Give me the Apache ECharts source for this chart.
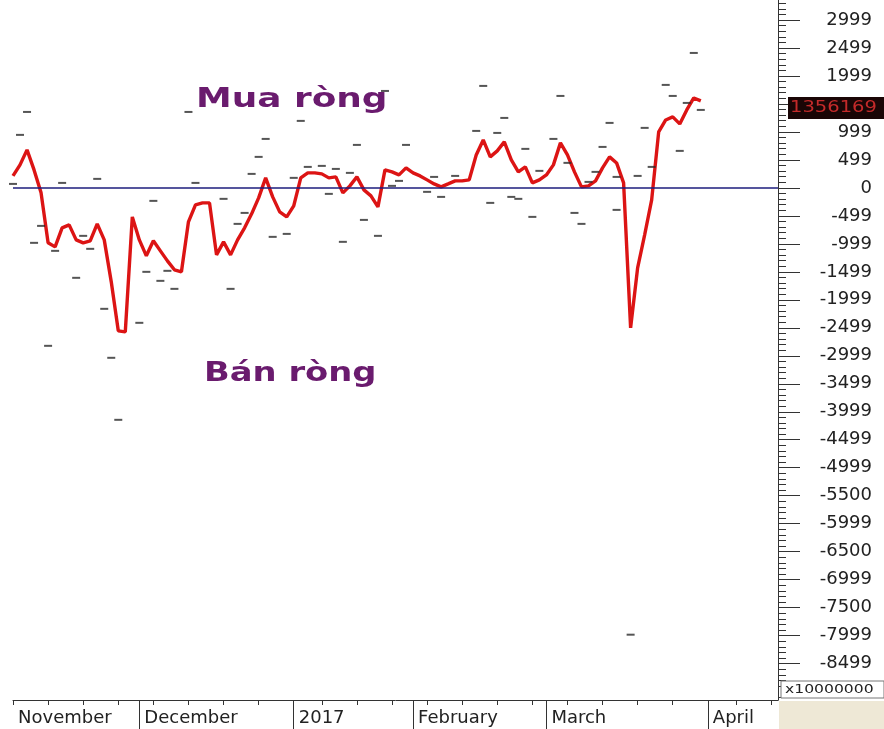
<!DOCTYPE html>
<html><head><meta charset="utf-8">
<script src="https://cdn.jsdelivr.net/npm/echarts@6/dist/echarts.min.js"></script>
<style>html,body{margin:0;padding:0;background:#fff}#c{width:884px;height:729px}</style>
</head><body><div id="c"></div>
<script>
// ---- data ----
const startDate = '2016-11-07';
const endDate = '2017-04-18';
const holidays = ['2017-01-02','2017-01-26','2017-01-27','2017-01-30','2017-01-31','2017-02-01','2017-04-06'];

// net buy/sell line (one value per trading day, Nov 7 2016 .. Mar 31 2017)
const netValues = [214,411,679,321,-89,-982,-1054,-714,-661,-929,
 -982,-946,-643,-929,-1679,-2554,-2572,-518,-929,-1214,
 -946,-1125,-1304,-1464,-1500,-607,-304,-268,-268,-1197,
 -964,-1197,-929,-714,-464,-179,179,-161,-429,-518,
 -321,179,268,268,250,179,196,-89,36,196,
 -36,-143,-339,321,286,232,357,268,214,143,
 71,18,71,125,125,143,589,857,554,661,
 822,500,286,375,89,143,232,411,804,589,
 286,18,36,125,357,554,446,89,-2500,-1429,
 -839,-214,1000,1214,1268,1143,1393,1607,1554];

// small dash markers (trading-day index, value)
const dashIdx = [0,1,2,3,4,5,6,7,9,10,11,12,13,14,15,18,19,20,21,22,23,25,26,30,31,32,33,34,35,36,37,39,40,41,42,44,45,46,47,48,49,50,52,53,54,55,56,59,60,61,63,66,67,68,69,70,71,72,73,74,75,77,78,79,80,81,82,83,84,85,86,86,88,89,90,91,93,94,95,96,97,98];
const dashVal = [71,947,1357,-982,-679,-2822,-1125,89,-1607,-857,-1089,161,-2161,-3036,-4144,-2411,-1500,-232,-1661,-1482,-1804,1357,89,-196,-1804,-643,-447,250,554,875,-875,-822,179,1197,375,393,-107,339,-964,268,768,-572,-857,1732,36,125,768,-71,196,-161,214,1018,1822,-268,982,1250,-161,-196,697,-518,304,875,1643,447,-447,-643,107,286,732,1161,196,-393,-7983,214,1072,375,1840,1643,661,1518,2411,1393];

// y tick labels (the 1499 label is hidden behind the last-value box in the original)
const yTickValues = [3000,2500,2000,1500,1000,500,0,-500,-1000,-1500,-2000,-2500,-3000,-3500,-4000,-4500,-5000,-5500,-6000,-6500,-7000,-7500,-8000,-8500];
const yTickLabels = ['2999','2499','1999','','999','499','0','-499','-999','-1499','-1999','-2499','-2999','-3499','-3999','-4499','-4999','-5500','-5999','-6500','-6999','-7500','-7999','-8499'];
const monthNames = ['2017','February','March','April','May','June','July','August','September','October','November','December'];
const lastValueText = '1356169';
const unitText = 'x10000000';
const buyText = 'Mua ròng';
const sellText = 'Bán ròng';
const yMin = -9150, yMax = 3357;

// ---- build trading-day categories ----
const categories = [];
(function(){
  let d = new Date(startDate + 'T00:00:00Z');
  const end = new Date(endDate + 'T00:00:00Z');
  while (d <= end) {
    const s = d.toISOString().slice(0,10);
    const wd = d.getUTCDay();
    if (wd !== 0 && wd !== 6 && holidays.indexOf(s) < 0) categories.push(s);
    d = new Date(d.getTime() + 86400000);
  }
})();
function weekNo(s){ return Math.floor((Date.parse(s + 'T00:00:00Z')/86400000 + 3) / 7); }
function monthOf(s){ return +s.slice(5,7); }
function isWeekStart(i){ return i === 0 || weekNo(categories[i]) !== weekNo(categories[i-1]); }
function isMonthStart(i){ return i > 0 && monthOf(categories[i]) !== monthOf(categories[i-1]); }
const minorVals = [];
for (let v = -9100; v <= 3300; v += 100) if (v % 500 !== 0) minorVals.push(v);

const FONT = 'DejaVu Sans';
const chart = echarts.init(document.getElementById('c'));
chart.setOption({
  animation: false,
  backgroundColor: '#ffffff',
  grid: {left: 13, right: 106, top: 0, bottom: 29, outerBoundsMode: 'none'},
  xAxis: [
    {type: 'category', data: categories, boundaryGap: false, position: 'bottom',
     axisLine: {show: true, onZero: false, lineStyle: {color: '#333', width: 1}},
     axisTick: {show: true, interval: (i) => isWeekStart(i), length: 5, lineStyle: {color: '#333'}},
     axisLabel: {show: false}, splitLine: {show: false}},
    {type: 'category', data: categories, boundaryGap: false, position: 'bottom',
     axisLine: {show: false, onZero: false},
     axisTick: {show: true, interval: (i) => isMonthStart(i), length: 29, lineStyle: {color: '#333'}},
     axisLabel: {show: true, interval: (i) => i === 0 || isMonthStart(i),
       formatter: (v) => { const m = monthOf(v); return m === 1 ? monthNames[0] : monthNames[m - 1]; },
       align: 'left', padding: [0, 0, 0, 5], margin: 9, fontFamily: FONT, fontSize: 18, color: '#222'},
     splitLine: {show: false}}
  ],
  yAxis: [
    {type: 'value', position: 'right', min: yMin, max: yMax,
     axisLine: {show: true, lineStyle: {color: '#333', width: 1}},
     axisTick: {show: true, customValues: yTickValues, length: 22, lineStyle: {color: '#333'}},
     axisLabel: {show: true, customValues: yTickValues,
       formatter: (v) => { const k = yTickValues.indexOf(v); return k >= 0 ? yTickLabels[k] : ''; },
       align: 'right', margin: 94, fontFamily: FONT, fontSize: 18, color: '#222'},
     splitLine: {show: false}},
    {type: 'value', position: 'right', min: yMin, max: yMax,
     axisLine: {show: false},
     axisTick: {show: true, customValues: minorVals, length: 8, lineStyle: {color: '#333'}},
     axisLabel: {show: false}, splitLine: {show: false}}
  ],
  series: [
    {type: 'line', name: 'net', xAxisIndex: 0, yAxisIndex: 0, data: netValues,
     symbol: 'none', showSymbol: false, z: 3,
     lineStyle: {color: '#dc1414', width: 3.4},
     markLine: {silent: true, symbol: 'none', label: {show: false},
       lineStyle: {color: '#1c1c7c', width: 1.5, type: 'solid'}, data: [{yAxis: 0}]}},
    {type: 'scatter', name: 'dash', xAxisIndex: 0, yAxisIndex: 0,
     data: dashIdx.map((i, k) => [i, dashVal[k]]),
     symbol: 'rect', symbolSize: [8, 2], itemStyle: {color: '#2a2a2a'}, z: 4, clip: false}
  ],
  graphic: [
    {type: 'text', x: 196, y: 87, scaleX: 1.38, z: 50,
     style: {text: buyText, fontFamily: FONT, fontWeight: 'bold', fontSize: 26, fill: '#6a1b6e', align: 'left', verticalAlign: 'top'}},
    {type: 'text', x: 204, y: 361, scaleX: 1.3, z: 50,
     style: {text: sellText, fontFamily: FONT, fontWeight: 'bold', fontSize: 26, fill: '#6a1b6e', align: 'left', verticalAlign: 'top'}},
    {type: 'rect', z: 60, shape: {x: 788, y: 97, width: 96, height: 22}, style: {fill: '#1a0606'}},
    {type: 'text', x: 790, y: 108, scaleX: 1.3, z: 61,
     style: {text: lastValueText, fontFamily: FONT, fontSize: 15, fill: '#c42a2a', align: 'left', verticalAlign: 'middle'}},
    {type: 'rect', z: 60, shape: {x: 781, y: 681, width: 103, height: 17}, style: {fill: '#fff', stroke: '#777', lineWidth: 1}},
    {type: 'text', x: 785, y: 690, scaleX: 1.3, z: 61,
     style: {text: unitText, fontFamily: FONT, fontSize: 12, fill: '#222', align: 'left', verticalAlign: 'middle'}},
    {type: 'rect', z: 60, shape: {x: 779, y: 701, width: 105, height: 28}, style: {fill: '#eee8d6'}}
  ]
});
</script>
</body></html>
